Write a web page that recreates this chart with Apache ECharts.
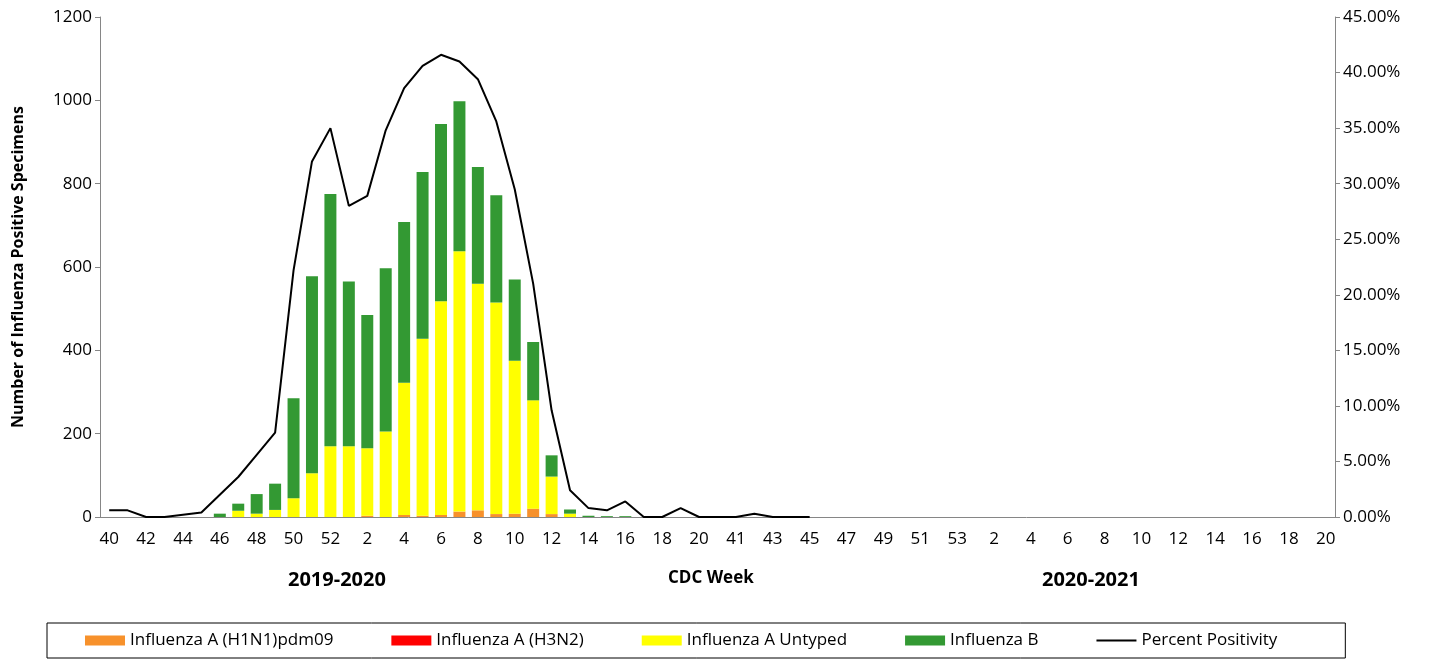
<!DOCTYPE html>
<html><head><meta charset="utf-8">
<script src="https://cdn.jsdelivr.net/npm/echarts@6/dist/echarts.min.js"></script>
<style>html,body{margin:0;padding:0;background:#fff}#c{width:1441px;height:662px}</style>
</head><body><div id="c"></div>
<script>
const weeks=[40,41,42,43,44,45,46,47,48,49,50,51,52,1,2,3,4,5,6,7,8,9,10,11,12,13,14,15,16,17,18,19,20,
40,41,42,43,44,45,46,47,48,49,50,51,52,53,1,2,3,4,5,6,7,8,9,10,11,12,13,14,15,16,17,18,19,20];
const h1n1=[0,0,0,0,0,0,0,0,0,0,0,0,0,0,3,0,5,3,5,13,16,7,8,20,7,0,0,0,0,0,0,0,0];
const h3n2=[0,0,0,0,0,0,0,0,0,0,0,0,0,0,0,0,0,0,0,0,0,0,0,0,0,0,0,0,0,0,0,0,0];
const untyped=[0,0,0,0,0,0,0,15,8,17,45,105,170,170,162,205,317,425,513,625,544,508,367,260,90,8,0,0,0,0,0,0,0];
const fluB=[0,0,0,0,0,0,8,17,47,63,240,473,605,395,320,392,386,400,425,360,280,257,195,140,51,10,3,2,2,0,0,0,0];
const pct=[0.6,0.6,0,0,0.2,0.4,2.0,3.6,5.6,7.6,22.2,32,35,28,28.9,34.8,38.6,40.6,41.6,41,39.4,35.6,29.5,21,9.6,2.4,0.8,0.6,1.4,0,0,0.8,0,
0,0,0.3,0,0,0];
const leftTicks=[0,200,400,600,800,1000,1200];
const font='"Open Sans", "Liberation Sans", Arial, sans-serif';
const ax={lineStyle:{color:'#868686'}};
const chart=echarts.init(document.getElementById('c'));
const bar=(name,data,color)=>({name,type:'bar',stack:'s',data,itemStyle:{color},barCategoryGap:'35%'});
chart.setOption({
 animation:false,
 textStyle:{fontFamily:font},
 grid:{left:100,right:106,top:17,bottom:145},
 legend:{bottom:4,left:47,itemGap:58,itemWidth:40,itemHeight:10,borderColor:'#000',borderWidth:1,padding:[9,68,9,38],
  textStyle:{fontSize:17,color:'#000',fontFamily:font},
  data:[{name:'Influenza A (H1N1)pdm09',icon:'rect'},{name:'Influenza A (H3N2)',icon:'rect'},{name:'Influenza A Untyped',icon:'rect'},{name:'Influenza B',icon:'rect'},{name:'Percent Positivity',icon:'path://M0,4L40,4L40,6L0,6Z'}]},
 xAxis:{type:'category',data:weeks.map(String),axisLine:ax,axisTick:{lineStyle:{color:'#868686'},length:7},
  axisLabel:{interval:1,color:'#000',fontSize:17,margin:14,fontFamily:font}},
 yAxis:[{type:'value',min:0,max:1200,interval:200,name:'Number of Influenza Positive Specimens',nameLocation:'middle',nameGap:74,
   nameTextStyle:{fontSize:16,fontWeight:'bold',color:'#000',fontFamily:font},
   axisLine:{show:true,...ax},axisTick:{show:true,lineStyle:{color:'#868686'}},splitLine:{show:false},
   axisLabel:{color:'#000',fontSize:17,fontFamily:font,formatter:v=>leftTicks.includes(v)?String(v):''}},
  {type:'value',min:0,max:45,interval:5,position:'right',axisLine:{show:true,...ax},axisTick:{show:true,lineStyle:{color:'#868686'}},splitLine:{show:false},
   axisLabel:{color:'#000',fontSize:17,fontFamily:font,formatter:v=>v.toFixed(2)+'%'}}],
 series:[bar('Influenza A (H1N1)pdm09',h1n1,'#f7912b'),bar('Influenza A (H3N2)',h3n2,'#ff0000'),
  bar('Influenza A Untyped',untyped,'#ffff00'),bar('Influenza B',fluB,'#339933'),
  {name:'Percent Positivity',type:'line',yAxisIndex:1,data:pct,symbol:'none',lineStyle:{color:'#000',width:2},itemStyle:{color:'#000'}}],
 graphic:[
  {type:'text',left:288,top:570,style:{text:'2019-2020',font:'bold 20px '+font,fill:'#000'}},
  {type:'text',left:668,top:570,style:{text:'CDC Week',font:'bold 17px '+font,fill:'#000'}},
  {type:'text',left:1042,top:570,style:{text:'2020-2021',font:'bold 20px '+font,fill:'#000'}}]
});
</script></body></html>
